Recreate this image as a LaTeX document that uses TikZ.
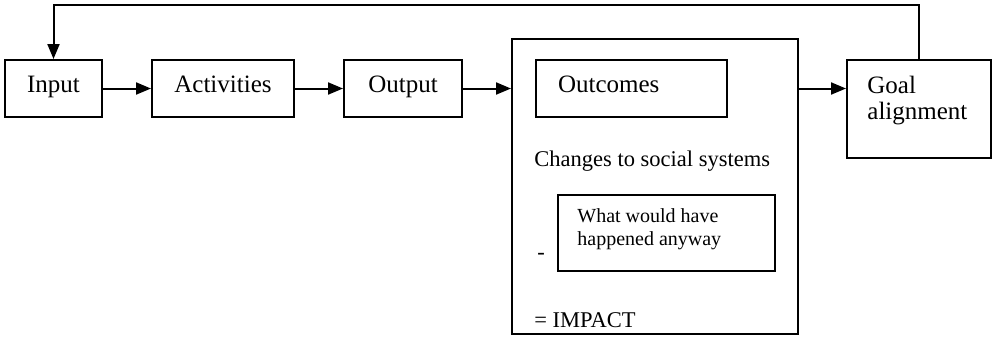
\documentclass[tikz,border=0pt]{standalone}
\usepackage{fontspec}
\setmainfont{Liberation Serif}
\usetikzlibrary{arrows.meta}

\begin{document}
\begin{tikzpicture}[x=0.5pt, y=-0.5pt,
  box/.style={draw, line width=1pt, inner sep=0pt, font=\fontsize{12.5}{13}\selectfont},
  step box/.style={box, minimum height=28.5pt, text height=7.5pt, text depth=3.5pt},
  txt/.style={inner sep=0pt},
  arr/.style={line width=1pt, -{Triangle[length=7.5pt,width=6pt]}}]

\useasboundingbox (0,0) rectangle (992,344);

% chain of boxes
\node[step box, minimum width=48.5pt] (input) at (53.5, 88.5) {Input};
\node[step box, minimum width=71pt] (activities) at (223, 88.5) {Activities};
\node[step box, minimum width=59pt] (output) at (403, 88.5) {Output};

% big box with the sum inside
\node[box, minimum width=143pt, minimum height=147.5pt] (impact) at (655, 186.5) {};
\node[step box, inner xsep=11pt, text width=73.5pt, align=left] (outcomes) at (631.5, 88.5) {Outcomes};
\node[txt, anchor=base west, font=\fontsize{11.25}{12}\selectfont] (changes) at (534, 166) {Changes to social systems};
\node[box, minimum width=108.5pt, minimum height=38pt] (anyway) at (666.5, 233) {};
\node[txt, anchor=north west, align=left, font=\fontsize{10}{11.5}\selectfont] (anywaytext) at (577, 208) {What would have\\happened anyway};
\node[txt, font=\fontsize{11.25}{12}\selectfont] (minus) at (541, 256) {-};
\node[txt, anchor=base west, font=\fontsize{11.25}{12}\selectfont] (result) at (534, 327) {= IMPACT};

% goal box
\node[box, minimum width=72pt, minimum height=49pt] (goal) at (919, 109) {};
\node[txt, anchor=north west, align=left, font=\fontsize{12.5}{13}\selectfont] (goaltext) at (867, 76) {Goal\\alignment};

% arrows
\draw[arr] (input) -- (activities);
\draw[arr] (activities) -- (output);
\draw[arr] (output) -- (output -| impact.west);
\draw[arr] (impact.east |- output) -- (goal.west |- output);

% feedback loop
\coordinate (fb) at (0, 5);
\draw[arr] (goal.north) -- (goal.north |- fb) -| (input.north);

\end{tikzpicture}
\end{document}
